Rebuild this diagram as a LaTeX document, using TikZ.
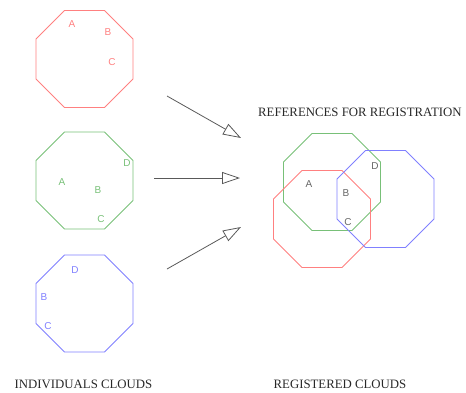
\documentclass[tikz,border=0pt]{standalone}
\usepackage{fontspec}
\setmainfont{Liberation Serif}
\newfontfamily\lblfont{Liberation Sans}
\usetikzlibrary{shapes.geometric,arrows.meta}

\definecolor{cloudred}{RGB}{255,128,128}
\definecolor{cloudgreen}{RGB}{120,192,120}
\definecolor{cloudblue}{RGB}{128,128,255}
\definecolor{titlegray}{RGB}{40,40,40}

\tikzset{
  cloud/.style={regular polygon, regular polygon sides=8, minimum size=105pt,
                inner sep=0pt, draw, line width=0.9pt},
  pt/.style={font=\lblfont\fontsize{10}{10}\selectfont, inner sep=0pt},
  caption/.style={font=\fontsize{12.8}{13}\selectfont, text=titlegray, inner sep=0pt},
  flow/.style={draw=gray!70!black, line width=0.8pt,
               -{Triangle[open, length=18pt, width=12pt, line width=0.8pt]}}
}

\begin{document}
\begin{tikzpicture}[x=1pt, y=-1pt]
\useasboundingbox (0,0) rectangle (466,392);

% individual clouds
\node[cloud, draw=cloudred]   (c1) at (84.5,59)    {};
\node[cloud, draw=cloudgreen] (c2) at (84.5,180.5) {};
\node[cloud, draw=cloudblue]  (c3) at (84.5,303.5) {};

\node[pt, text=cloudred] (c1a) at (72,24)  {A};
\node[pt, text=cloudred] (c1b) at (108,32) {B};
\node[pt, text=cloudred] (c1c) at (112,62) {C};

\node[pt, text=cloudgreen] (c2a) at (62,182)  {A};
\node[pt, text=cloudgreen] (c2b) at (98,190)  {B};
\node[pt, text=cloudgreen] (c2c) at (101,219) {C};
\node[pt, text=cloudgreen] (c2d) at (127,163) {D};

\node[pt, text=cloudblue] (c3b) at (44,297) {B};
\node[pt, text=cloudblue] (c3c) at (48,326) {C};
\node[pt, text=cloudblue] (c3d) at (75,270) {D};

% registration arrows
\coordinate (a1s) at (167,96);  \coordinate (a1e) at (241,138);
\coordinate (a2s) at (154,178); \coordinate (a2e) at (240,178);
\coordinate (a3s) at (167,269); \coordinate (a3e) at (241,227);
\draw[flow] (a1s) -- (a1e);
\draw[flow] (a2s) -- (a2e);
\draw[flow] (a3s) -- (a3e);

% registered clouds
\node[cloud, draw=cloudgreen] (r2) at (332,182)   {};
\node[cloud, draw=cloudred]   (r1) at (322,219)   {};
\node[cloud, draw=cloudblue]  (r3) at (385.5,199) {};

\node[pt, text=gray!80!black] (ra) at (309,184) {A};
\node[pt, text=gray!80!black] (rb) at (346,193) {B};
\node[pt, text=gray!80!black] (rc) at (348,222) {C};
\node[pt, text=gray!80!black] (rd) at (375,166) {D};

% captions
\node[caption, anchor=west] (ref) at (258,112) {REFERENCES FOR REGISTRATION};
\node[caption] (ind) at (83.5,384) {INDIVIDUALS CLOUDS};
\node[caption] (reg) at (340,384)  {REGISTERED CLOUDS};
\end{tikzpicture}
\end{document}
